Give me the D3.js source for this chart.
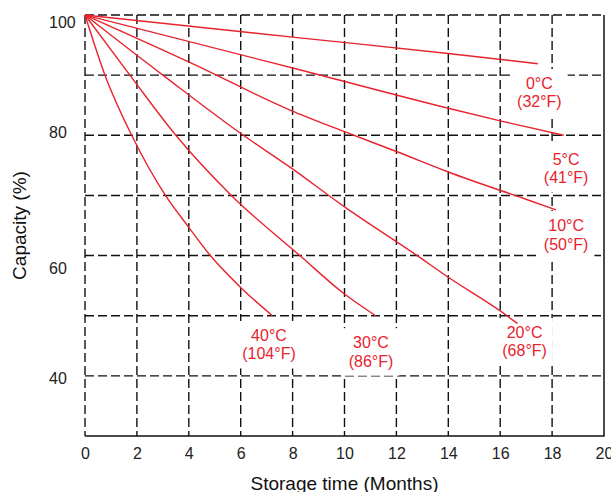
<!DOCTYPE html>
<html>
<head>
<meta charset="utf-8">
<script src="https://cdn.jsdelivr.net/npm/d3@7/dist/d3.min.js"></script>
<style>
  body { margin: 0; background: #fff; }
  svg { display: block; font-family: "Liberation Sans", Arial, sans-serif; }
</style>
</head>
<body>
<svg class="chart"></svg>
<script>
// values: [months, capacity %]
var xTicks = [0, 2, 4, 6, 8, 10, 12, 14, 16, 18, 20];
var xGrid = [0, 2, 4, 6, 8, 10, 12, 14, 16, 18];
var yTicks = [100, 80, 60, 40];
var yGrid = [40, 50, 60, 70, 80, 90, 100];

var curve0C = [[0, 100], [8.27, 96.2], [14, 93.6], [17.45, 91.9]];
var curve5C = [[0, 100], [8.27, 90.9], [14, 84.5], [16, 82.4], [18.45, 80]];
var curve10C = [[0, 100], [4, 92.2], [7.9, 84.2], [10, 80.6], [12, 77.3], [14, 73.9], [17.1, 69.2], [18.15, 67.6]];
var curve20C = [[0, 100], [3, 90], [6.1, 80], [7.9, 74.7], [10, 68.1], [12.8, 60], [14, 56.4], [16, 50.8], [16.67, 48.7]];
var curve30C = [[0, 100], [1.73, 90], [3.5, 80], [5.64, 70], [8.28, 60], [10, 53.6], [11.2, 50]];
var curve40C = [[0, 100], [0.77, 90], [1.8, 80], [3.1, 70], [4, 64.7], [4.83, 60], [6, 54.7], [7.22, 50]];

var labelC = ["0°C", "5°C", "10°C", "20°C", "30°C", "40°C"];
var labelF = ["(32°F)", "(41°F)", "(50°F)", "(68°F)", "(86°F)", "(104°F)"];
// label anchor: [month of centre, capacity at first baseline]
var labelAt = [[17.51, 87.7], [18.54, 75.06], [18.54, 64.08], [16.94, 46.3], [11.02, 44.6], [7.09, 45.8]];

var curves = [curve0C, curve5C, curve10C, curve20C, curve30C, curve40C];

var width = 611, height = 492;
var red = "#e8232d";

var svg = d3.select(".chart").attr("width", width).attr("height", height);

var x = d3.scaleLinear().domain([0, 20]).range([85, 604]);
var y = d3.scaleLinear().domain([30, 100]).range([436, 15]);

// grid
svg.append("g").selectAll("line")
  .data(yGrid).enter().append("line")
    .attr("x1", x(0)).attr("x2", x(20))
    .attr("y1", function(d) { return y(d); })
    .attr("y2", function(d) { return y(d); })
    .attr("stroke", "#111").attr("stroke-width", 1.4)
    .attr("stroke-dasharray", "9,4");

svg.append("g").selectAll("line")
  .data(xGrid).enter().append("line")
    .attr("x1", function(d) { return x(d); })
    .attr("x2", function(d) { return x(d); })
    .attr("y1", y(100)).attr("y2", y(30))
    .attr("stroke", "#111").attr("stroke-width", 1.4)
    .attr("stroke-dasharray", "9,4");

// solid bottom and right borders
svg.append("path")
  .attr("d", "M" + x(0) + "," + y(30) + "H" + x(20) + "V" + y(100))
  .attr("fill", "none").attr("stroke", "#111").attr("stroke-width", 1.5);

// temperature labels with white boxes over the grid
labelC.forEach(function(t, i) {
  var g = svg.append("g").attr("font-size", 16).attr("fill", red).attr("text-anchor", "middle");
  var cx = x(labelAt[i][0]), by = y(labelAt[i][1]);
  g.append("text").attr("x", cx).attr("y", by).text(t);
  g.append("text").attr("x", cx).attr("y", by + 18.5).text(labelF[i]);
  var b = g.node().getBBox();
  g.insert("rect", "text")
    .attr("x", b.x - 6).attr("y", b.y - 6)
    .attr("width", b.width + 12).attr("height", b.height + 12)
    .attr("fill", "#fff");
});

// curves
var line = d3.line()
  .x(function(d) { return x(d[0]); })
  .y(function(d) { return y(d[1]); })
  .curve(d3.curveMonotoneX);

svg.append("g").selectAll("path")
  .data(curves).enter().append("path")
    .attr("d", line)
    .attr("fill", "none")
    .attr("stroke", red)
    .attr("stroke-width", 1.4);

// x axis labels
var xAxis = svg.append("g")
  .attr("transform", "translate(0," + y(30) + ")")
  .call(d3.axisBottom(x).tickValues(xTicks).tickSize(0).tickPadding(12));
xAxis.select(".domain").remove();
xAxis.selectAll("text").attr("font-size", 16).attr("fill", "#222")
  .attr("font-family", "Liberation Sans, Arial, sans-serif");

// y axis labels (left aligned, as in the picture)
var yNudge = { 100: 12, 80: 2.7, 60: 18.2, 40: 7.4 };
var yAxis = svg.append("g")
  .attr("transform", "translate(" + x(0) + ",0)")
  .call(d3.axisLeft(y).tickValues(yTicks).tickSize(0));
yAxis.select(".domain").remove();
yAxis.selectAll("text")
  .attr("text-anchor", "start")
  .attr("x", 49 - x(0))
  .attr("dy", 0)
  .attr("y", function(d) { return yNudge[d]; })
  .attr("font-size", 16).attr("fill", "#222")
  .attr("font-family", "Liberation Sans, Arial, sans-serif");

// titles
svg.append("text")
  .attr("x", (x(0) + x(20)) / 2).attr("y", 490)
  .attr("text-anchor", "middle").attr("font-size", 19).attr("fill", "#111")
  .text("Storage time (Months)");

svg.append("text")
  .attr("transform", "translate(25.5," + (y(30) + y(100)) / 2 + ") rotate(-90)")
  .attr("text-anchor", "middle").attr("font-size", 19).attr("fill", "#111")
  .text("Capacity (%)");
</script>
</body>
</html>
